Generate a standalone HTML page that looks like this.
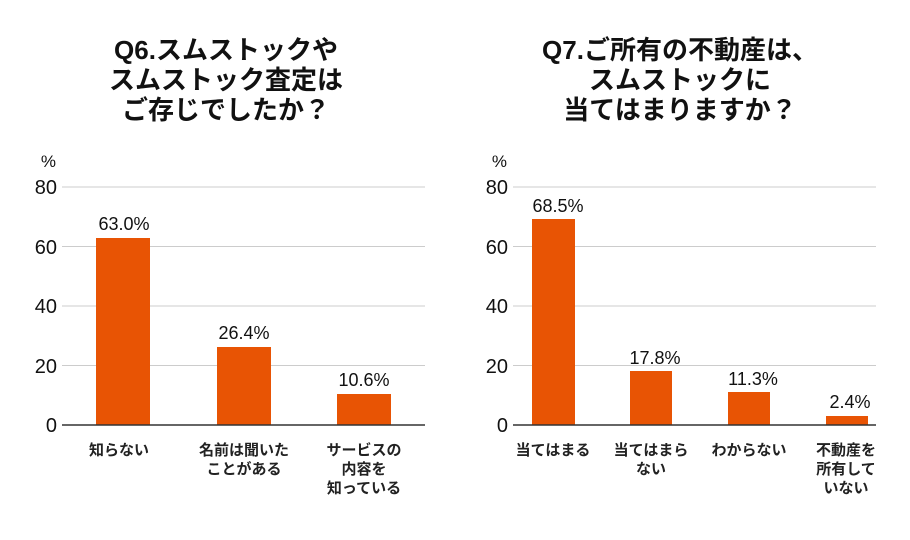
<!DOCTYPE html><html><head><meta charset="utf-8"><style>body{margin:0;background:#fff}svg{display:block}</style></head><body>
<svg width="910" height="540" xmlns="http://www.w3.org/2000/svg" font-family="'Liberation Sans','Noto Sans CJK JP',sans-serif">
<g font-size="26" font-weight="bold" fill="#111" text-anchor="middle">
<text x="226" y="59">Q6.スムストックや</text><text x="226" y="89">スムストック査定は</text><text x="226" y="119">ご存じでしたか？</text>
<text x="680" y="59">Q7.ご所有の不動産は、</text><text x="680" y="89">スムストックに</text><text x="680" y="119">当てはまりますか？</text>
</g>
<g stroke="#ccc" stroke-width="1">
<line x1="62" x2="425" y1="187" y2="187"/><line x1="62" x2="425" y1="246.5" y2="246.5"/><line x1="62" x2="425" y1="306" y2="306"/><line x1="62" x2="425" y1="365.5" y2="365.5"/>
<line x1="513" x2="876" y1="187" y2="187"/><line x1="513" x2="876" y1="246.5" y2="246.5"/><line x1="513" x2="876" y1="306" y2="306"/><line x1="513" x2="876" y1="365.5" y2="365.5"/>
</g>
<g fill="#e85404">
<rect x="96" y="238" width="54" height="187"/><rect x="217" y="347" width="54" height="78"/><rect x="337" y="394" width="54" height="31"/>
<rect x="532" y="219" width="43" height="206"/><rect x="630" y="371" width="42" height="54"/><rect x="728" y="392" width="42" height="33"/><rect x="826" y="416" width="42" height="9"/>
</g>
<g stroke="#333" stroke-width="1.5"><line x1="62" x2="425" y1="425" y2="425"/><line x1="513" x2="876" y1="425" y2="425"/></g>
<g font-size="20" fill="#111" text-anchor="end">
<text x="57" y="194">80</text><text x="57" y="254">60</text><text x="57" y="313">40</text><text x="57" y="373">20</text><text x="57" y="432">0</text>
<text x="508" y="194">80</text><text x="508" y="254">60</text><text x="508" y="313">40</text><text x="508" y="373">20</text><text x="508" y="432">0</text>
<text x="56" y="167" font-size="17">%</text><text x="507" y="167" font-size="17">%</text>
</g>
<g font-size="18" fill="#111" text-anchor="middle">
<text x="124" y="230">63.0%</text><text x="244" y="339">26.4%</text><text x="364" y="386">10.6%</text>
<text x="558" y="212">68.5%</text><text x="655" y="364">17.8%</text><text x="753" y="385">11.3%</text><text x="850" y="408">2.4%</text>
</g>
<g font-size="15" font-weight="600" fill="#222" text-anchor="middle">
<text x="119" y="455">知らない</text>
<text x="244" y="455">名前は聞いた</text><text x="244" y="474">ことがある</text>
<text x="364" y="455">サービスの</text><text x="364" y="474">内容を</text><text x="364" y="493">知っている</text>
<text x="553" y="455">当てはまる</text>
<text x="651" y="455">当てはまら</text><text x="651" y="474">ない</text>
<text x="749" y="455">わからない</text>
<text x="846" y="455">不動産を</text><text x="846" y="474">所有して</text><text x="846" y="493">いない</text>
</g>
</svg></body></html>
